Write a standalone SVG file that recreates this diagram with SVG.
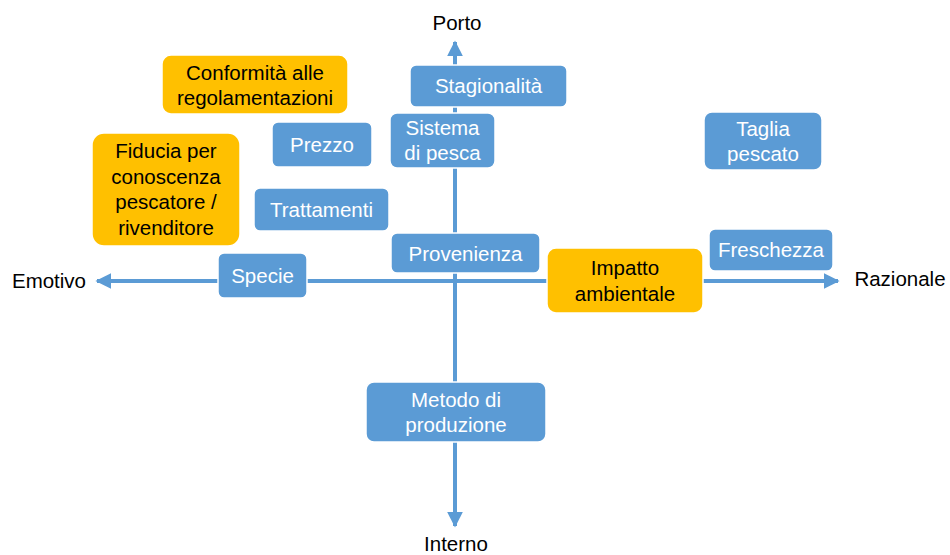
<svg xmlns="http://www.w3.org/2000/svg" width="950" height="555" viewBox="0 0 950 555">
<style>
.b{fill:#5B9BD5;stroke:#ffffff;stroke-width:1.5}
.o{fill:#FFC000;stroke:#ffffff;stroke-width:1.5}
text{font-family:"Liberation Sans",Arial,sans-serif;font-size:20.5px;text-anchor:middle}
.w{fill:#ffffff}
.k{fill:#000000}
.ax{stroke:#5B9BD5;stroke-width:4;fill:none}
</style>
<defs>
<marker id="ah" viewBox="0 0 10 10" refX="9" refY="5" markerWidth="4" markerHeight="4" orient="auto" markerUnits="strokeWidth">
<path d="M0,0 L10,5 L0,10 z" fill="#5B9BD5"/>
</marker>
</defs>
<g id="connectors">
<line class="ax" x1="455" y1="520" x2="455" y2="42" marker-end="url(#ah)"/>
<line class="ax" x1="455" y1="282" x2="455" y2="526" marker-end="url(#ah)"/>
<line class="ax" x1="455" y1="281" x2="97" y2="281" marker-end="url(#ah)"/>
<line class="ax" x1="455" y1="281" x2="838" y2="281" marker-end="url(#ah)"/>
</g>
<g id="labels">
<text class="k" x="457" y="30">Porto</text>
<text class="k" x="456" y="551">Interno</text>
<text class="k" x="49" y="288">Emotivo</text>
<text class="k" x="900" y="286">Razionale</text>
</g>
<g id="stagionalita"><rect class="b" x="410" y="65" width="157" height="42" rx="6"/><text class="w" x="488.5" y="93">Stagionalità</text></g>
<g id="sistema"><rect class="b" x="390" y="113" width="105" height="55" rx="7"/><text class="w" x="442.5" y="135">Sistema</text><text class="w" x="442.5" y="160">di pesca</text></g>
<g id="conformita"><rect class="o" x="162" y="55" width="186" height="59" rx="9"/><text class="k" x="255" y="80">Conformità alle</text><text class="k" x="255" y="105">regolamentazioni</text></g>
<g id="prezzo"><rect class="b" x="272" y="122" width="100" height="45" rx="6"/><text class="w" x="322" y="151.5">Prezzo</text></g>
<g id="fiducia"><rect class="o" x="92" y="133" width="148" height="113" rx="12"/><text class="k" x="166" y="158">Fiducia per</text><text class="k" x="166" y="184">conoscenza</text><text class="k" x="166" y="209">pescatore /</text><text class="k" x="166" y="235">rivenditore</text></g>
<g id="trattamenti"><rect class="b" x="254" y="188" width="135" height="43" rx="6"/><text class="w" x="321.5" y="217">Trattamenti</text></g>
<g id="specie"><rect class="b" x="218" y="253" width="89" height="45" rx="6"/><text class="w" x="262.5" y="283">Specie</text></g>
<g id="provenienza"><rect class="b" x="391" y="233" width="149" height="40" rx="6"/><text class="w" x="465.5" y="260.5">Provenienza</text></g>
<g id="impatto"><rect class="o" x="547" y="248" width="156" height="65" rx="9"/><text class="k" x="625" y="275">Impatto</text><text class="k" x="625" y="301">ambientale</text></g>
<g id="freschezza"><rect class="b" x="709" y="229" width="124" height="42" rx="6"/><text class="w" x="771" y="257">Freschezza</text></g>
<g id="taglia"><rect class="b" x="704" y="112" width="118" height="58" rx="8"/><text class="w" x="763" y="135.5">Taglia</text><text class="w" x="763" y="161">pescato</text></g>
<g id="metodo"><rect class="b" x="366" y="382" width="180" height="60" rx="8"/><text class="w" x="456" y="406.5">Metodo di</text><text class="w" x="456" y="432">produzione</text></g>
</svg>
